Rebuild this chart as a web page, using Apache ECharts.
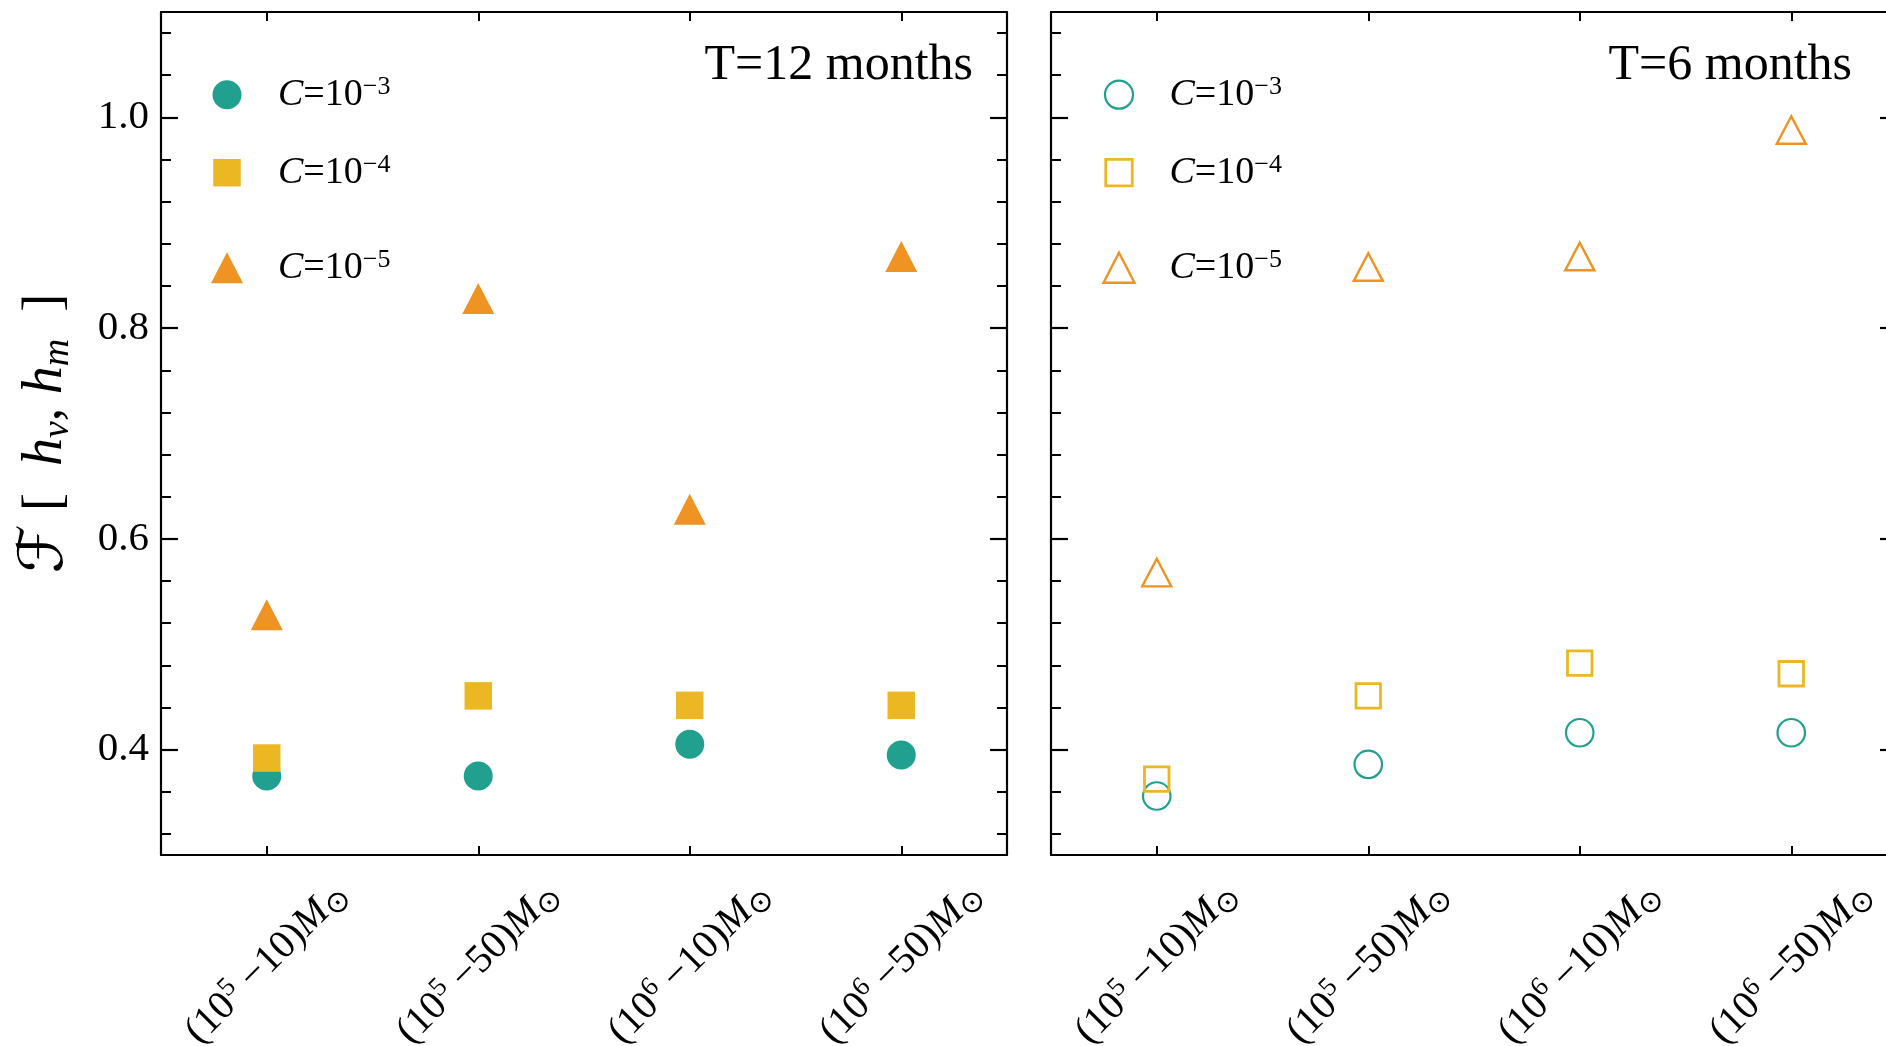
<!DOCTYPE html>
<html>
<head>
<meta charset="utf-8">
<script src="https://cdn.jsdelivr.net/npm/echarts@6/dist/echarts.min.js"></script>
<style>
  html, body { margin: 0; padding: 0; background: #ffffff; }
  #main { width: 1886px; height: 1046px; }
</style>
</head>
<body>
<div id="main"></div>
<script>
// Mass bins on the x axis: (10^exp - second) M_sun
const categories = ['1e5-10', '1e5-50', '1e6-10', '1e6-50'];
const massExponent = ['5', '5', '6', '6'];
const massSecond = ['10', '50', '10', '50'];

// y-axis tick positions
const majorTicks = [0.4, 0.6, 0.8, 1.0];
const minorTicks = [0.32, 0.36, 0.44, 0.48, 0.52, 0.56, 0.64, 0.68, 0.72, 0.76,
                    0.84, 0.88, 0.92, 0.96, 1.04, 1.08];

// Fitting factor, observation time T = 12 months
const t12_c3 = [0.375, 0.375, 0.405, 0.395];
const t12_c4 = [0.392, 0.451, 0.442, 0.442];
const t12_c5 = [0.528, 0.828, 0.628, 0.868];

// Fitting factor, observation time T = 6 months
const t6_c3 = [0.356, 0.386, 0.416, 0.416];
const t6_c4 = [0.372, 0.451, 0.482, 0.472];
const t6_c5 = [0.568, 0.858, 0.868, 0.988];

const cExponents = ['3', '4', '5'];
const panelTitles = ['T=12 months', 'T=6 months'];

const SERIF = "'Liberation Serif', 'DejaVu Serif', serif";
const TEAL = '#21a08f', GOLD = '#ebb824', ORANGE = '#ef9322';

const markers = [
  { symbol: 'circle',   color: TEAL,   size: 29,       hollow: 27.5,       border: 2.2 },
  { symbol: 'rect',     color: GOLD,   size: 27.5,     hollow: 24.5,       border: 2.8 },
  { symbol: 'triangle', color: ORANGE, size: [32, 31], hollow: [29, 27.5], border: 2.4 }
];

const panels = [
  { title: panelTitles[0], filled: true,  data: [t12_c3, t12_c4, t12_c5] },
  { title: panelTitles[1], filled: false, data: [t6_c3, t6_c4, t6_c5] }
];

const gridBox = [
  { left: 161,  top: 12, width: 846, height: 843 },
  { left: 1051, top: 12, width: 846, height: 843 }
];
const legendRowY = [92.7, 170.7, 265.7];

const AXIS_COLOR = '#000';
const lineStyle = { color: AXIS_COLOR, width: 2.2 };

const xLabelRich = {
  n:   { fontFamily: SERIF, fontSize: 40, lineHeight: 48, color: '#000' },
  sup: { fontFamily: SERIF, fontSize: 27, lineHeight: 27, verticalAlign: 'top', color: '#000' },
  it:  { fontFamily: SERIF, fontSize: 40, lineHeight: 48, fontStyle: 'italic', color: '#000' },
  sub: { fontFamily: "'DejaVu Sans', sans-serif", fontSize: 30, lineHeight: 32, verticalAlign: 'bottom', color: '#000' }
};

const legendRich = {
  i:   { fontFamily: SERIF, fontSize: 38, lineHeight: 42, fontStyle: 'italic', color: '#000' },
  n:   { fontFamily: SERIF, fontSize: 38, lineHeight: 42, color: '#000' },
  sup: { fontFamily: SERIF, fontSize: 26, lineHeight: 24, verticalAlign: 'top', color: '#000' }
};

const xAxes = [], yAxes = [], series = [], legends = [], graphics = [];

panels.forEach(function (p, g) {
  // bottom category axis with rotated mass-bin labels
  xAxes.push({
    type: 'category', gridIndex: g, position: 'bottom', data: categories,
    boundaryGap: true,
    axisLine: { show: true, lineStyle: lineStyle },
    axisTick: { show: true, inside: true, alignWithLabel: true, length: 9, lineStyle: { color: AXIS_COLOR, width: 2 } },
    axisLabel: {
      show: true, rotate: 45, align: 'center', verticalAlign: 'middle', margin: 108,
      interval: 0,
      formatter: function (v, i) {
        return '{n|(10}{sup|' + massExponent[i] + '}{n| \u2212' + massSecond[i] + ')}{it|M}{sub|\u2299}';
      },
      rich: xLabelRich
    },
    splitLine: { show: false }
  });
  // mirrored top axis (ticks only)
  xAxes.push({
    type: 'category', gridIndex: g, position: 'top', data: categories,
    boundaryGap: true,
    axisLine: { show: true, lineStyle: lineStyle },
    axisTick: { show: true, inside: true, alignWithLabel: true, length: 9, lineStyle: { color: AXIS_COLOR, width: 2 } },
    axisLabel: { show: false },
    splitLine: { show: false }
  });

  const yBase = { type: 'value', gridIndex: g, min: 0.3, max: 1.1, splitLine: { show: false } };
  const leftMajor = Object.assign({}, yBase, {
    position: 'left',
    axisLine: { show: true, lineStyle: lineStyle },
    axisTick: { show: true, inside: true, length: 17, customValues: majorTicks, lineStyle: { color: AXIS_COLOR, width: 2.2 } },
    axisLabel: g === 0 ? {
      show: true, customValues: majorTicks, margin: 12,
      fontFamily: SERIF, fontSize: 41, color: '#000',
      formatter: function (v) { return v.toFixed(1); }
    } : { show: false }
  });
  if (g === 0) {
    leftMajor.name = '{f|\u2131}{b| [  }{h|h}{s|v}{b|, }{h|h}{s|m}{b|  ]}';
    leftMajor.nameLocation = 'middle';
    leftMajor.nameRotate = 90;
    leftMajor.nameGap = 84;
    leftMajor.nameTextStyle = {
      rich: {
        f: { fontFamily: "'DejaVu Serif', 'DejaVu Sans', serif", fontSize: 62, lineHeight: 62, fontStyle: 'italic', color: '#000' },
        b: { fontFamily: SERIF, fontSize: 54, lineHeight: 62, color: '#000' },
        h: { fontFamily: SERIF, fontSize: 56, lineHeight: 62, fontStyle: 'italic', color: '#000' },
        s: { fontFamily: SERIF, fontSize: 38, lineHeight: 46, fontStyle: 'italic', verticalAlign: 'bottom', color: '#000' }
      }
    };
  }
  yAxes.push(leftMajor);
  yAxes.push(Object.assign({}, yBase, {
    position: 'left',
    axisLine: { show: false },
    axisTick: { show: true, inside: true, length: 10, customValues: minorTicks, lineStyle: { color: AXIS_COLOR, width: 2 } },
    axisLabel: { show: false }
  }));
  yAxes.push(Object.assign({}, yBase, {
    position: 'right',
    axisLine: { show: true, lineStyle: lineStyle },
    axisTick: { show: true, inside: true, length: 17, customValues: majorTicks, lineStyle: { color: AXIS_COLOR, width: 2.2 } },
    axisLabel: { show: false }
  }));
  yAxes.push(Object.assign({}, yBase, {
    position: 'right',
    axisLine: { show: false },
    axisTick: { show: true, inside: true, length: 10, customValues: minorTicks, lineStyle: { color: AXIS_COLOR, width: 2 } },
    axisLabel: { show: false }
  }));

  p.data.forEach(function (values, k) {
    const m = markers[k];
    const name = p.title + ' C' + cExponents[k];
    const itemStyle = p.filled
      ? { color: m.color, opacity: 1 }
      : { color: 'none', borderColor: m.color, borderWidth: m.border, opacity: 1 };
    series.push({
      type: 'scatter', name: name,
      xAxisIndex: g * 2, yAxisIndex: g * 4,
      symbol: m.symbol, symbolSize: p.filled ? m.size : m.hollow,
      itemStyle: itemStyle,
      emphasis: { disabled: true },
      data: values
    });

    // one legend entry per marker row
    const w = Array.isArray(m.size) ? m.size[0] : m.size;
    const h = Array.isArray(m.size) ? m.size[1] : m.size;
    const cx = gridBox[g].left + 66;
    legends.push({
      show: true, orient: 'vertical', padding: 0, itemGap: 0,
      left: cx - w / 2, top: legendRowY[k] - 19,
      itemWidth: p.filled ? w : w - 1, itemHeight: p.filled ? h : h - 1,
      selectedMode: false,
      data: [{
        name: name, icon: m.symbol,
        itemStyle: p.filled
          ? { color: m.color, borderWidth: 0 }
          : { color: 'none', borderColor: m.color, borderWidth: m.border }
      }],
      formatter: function () {
        return '{i|C}{n|=10}{sup|\u2212' + cExponents[k] + '}';
      },
      textStyle: { padding: [0, 0, 0, 46 - w / 2], rich: legendRich }
    });
  });

  // panel title, right-aligned in the upper corner
  graphics.push({
    type: 'text',
    x: g === 0 ? 973 : 1852, y: 66,
    style: {
      text: p.title, align: 'right', verticalAlign: 'middle',
      fontFamily: SERIF, fontSize: 50, fill: '#000'
    }
  });
});

const chart = echarts.init(document.getElementById('main'), null, { renderer: 'canvas' });
chart.setOption({
  animation: false,
  backgroundColor: '#ffffff',
  grid: gridBox.map(function (b) { return Object.assign({ containLabel: false, outerBoundsMode: 'none' }, b); }),
  xAxis: xAxes,
  yAxis: yAxes,
  legend: legends,
  series: series,
  graphic: graphics
});
</script>
</body>
</html>
